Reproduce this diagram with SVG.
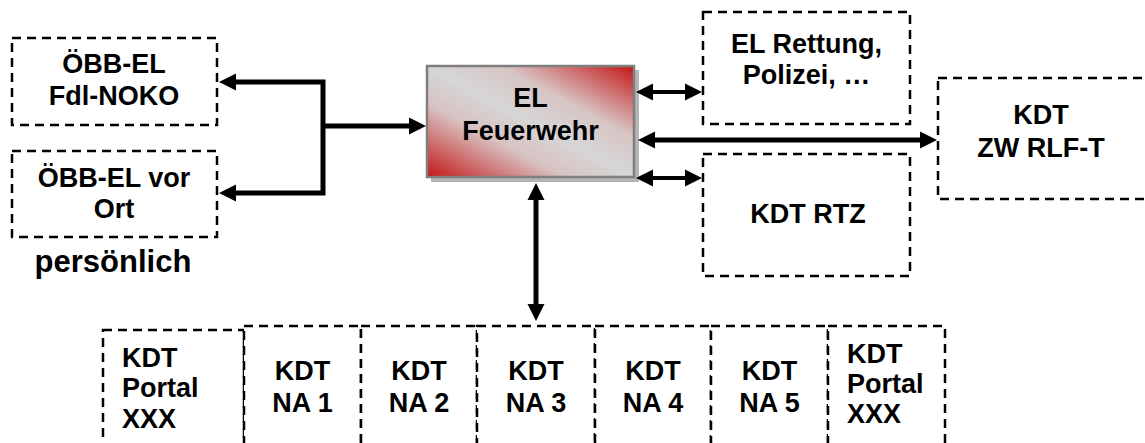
<svg xmlns="http://www.w3.org/2000/svg" width="1145" height="443" viewBox="0 0 1145 443">
  <style>
    .box { fill: #ffffff; stroke: #000000; stroke-width: 2.5; stroke-dasharray: 9 6; }
    .t { font-family: "Liberation Sans", Arial, sans-serif; font-weight: bold; font-size: 27px; fill: #000000; }
    .c { text-anchor: middle; }
    .con { fill: none; stroke: #000000; stroke-linejoin: miter; }
  </style>
  <defs>
    <linearGradient id="redgray" x1="0" y1="1" x2="1" y2="0">
      <stop offset="0" stop-color="#c41616"/>
      <stop offset="0.33" stop-color="#d8c2c2"/>
      <stop offset="0.5" stop-color="#d6d6d6"/>
      <stop offset="0.68" stop-color="#d8c4c4"/>
      <stop offset="1" stop-color="#c41616"/>
    </linearGradient>
    <marker id="arr" markerUnits="userSpaceOnUse" markerWidth="18" markerHeight="18" refX="1" refY="8.5" orient="auto-start-reverse" viewBox="0 0 18 17">
      <path d="M0,0 L17,8.5 L0,17 z" fill="#000000"/>
    </marker>
  </defs>

  <g id="bottom-row">
    <g id="n-portal-1">
      <rect class="box" x="103" y="330" width="141" height="130"/>
      <text class="t" x="122" y="367">KDT</text>
      <text class="t" x="122" y="397">Portal</text>
      <text class="t" x="122" y="428">XXX</text>
    </g>
    <g id="n-na1">
      <rect class="box" x="244" y="326" width="117" height="130"/>
      <text class="t c" x="302.5" y="380">KDT</text>
      <text class="t c" x="302.5" y="412">NA 1</text>
    </g>
    <g id="n-na2">
      <rect class="box" x="361" y="326" width="116" height="130"/>
      <text class="t c" x="419" y="380">KDT</text>
      <text class="t c" x="419" y="412">NA 2</text>
    </g>
    <g id="n-na3">
      <rect class="box" x="477" y="326" width="118" height="130"/>
      <text class="t c" x="536" y="380">KDT</text>
      <text class="t c" x="536" y="412">NA 3</text>
    </g>
    <g id="n-na4">
      <rect class="box" x="595" y="326" width="116" height="130"/>
      <text class="t c" x="653" y="380">KDT</text>
      <text class="t c" x="653" y="412">NA 4</text>
    </g>
    <g id="n-na5">
      <rect class="box" x="711" y="326" width="117" height="130"/>
      <text class="t c" x="769.5" y="380">KDT</text>
      <text class="t c" x="769.5" y="412">NA 5</text>
    </g>
    <g id="n-portal-2">
      <rect class="box" x="828" y="326" width="117" height="130"/>
      <text class="t" x="847" y="363">KDT</text>
      <text class="t" x="847" y="393">Portal</text>
      <text class="t" x="847" y="423">XXX</text>
    </g>
  </g>

  <g id="n-oebb-fdl">
    <rect class="box" x="12" y="38" width="205" height="87"/>
    <text class="t c" x="114" y="73">ÖBB-EL</text>
    <text class="t c" x="114" y="105">Fdl-NOKO</text>
  </g>
  <g id="n-oebb-vorort">
    <rect class="box" x="12" y="151" width="205" height="86"/>
    <text class="t c" x="114" y="187">ÖBB-EL vor</text>
    <text class="t c" x="114" y="218">Ort</text>
  </g>
  <g id="label-persoenlich">
    <text class="t c" x="113" y="272" style="font-size:31px">persönlich</text>
  </g>

  <g id="n-el-feuerwehr">
    <rect x="431" y="70" width="208" height="112" fill="#b5b5b5"/>
    <rect x="427" y="66" width="207" height="111" fill="url(#redgray)" stroke="#7f7f7f" stroke-width="2.5"/>
    <text class="t c" x="530.5" y="107">EL</text>
    <text class="t c" x="530.5" y="140">Feuerwehr</text>
  </g>

  <g id="n-el-rettung">
    <rect class="box" x="703" y="12" width="207" height="112"/>
    <text class="t c" x="806.5" y="53">EL Rettung,</text>
    <text class="t c" x="806.5" y="84">Polizei, …</text>
  </g>
  <g id="n-kdt-rtz">
    <rect class="box" x="703" y="154" width="207" height="122"/>
    <text class="t c" x="808" y="223">KDT RTZ</text>
  </g>
  <g id="n-kdt-zw">
    <rect class="box" x="938" y="78" width="230" height="121"/>
    <text class="t c" x="1041" y="124">KDT</text>
    <text class="t c" x="1041" y="157">ZW RLF-T</text>
  </g>

  <g id="connectors">
    <path class="con" stroke-width="5" d="M235,82 H323 V193 H235" marker-start="url(#arr)" marker-end="url(#arr)"/>
    <path class="con" stroke-width="5" d="M323,126 H410" marker-end="url(#arr)"/>
    <path class="con" stroke-width="4" d="M652,92 H686" marker-start="url(#arr)" marker-end="url(#arr)"/>
    <path class="con" stroke-width="5" d="M654,140 H921" marker-start="url(#arr)" marker-end="url(#arr)"/>
    <path class="con" stroke-width="4" d="M652,178 H686" marker-start="url(#arr)" marker-end="url(#arr)"/>
    <path class="con" stroke-width="5" d="M536,199 V305" marker-start="url(#arr)" marker-end="url(#arr)"/>
  </g>
</svg>
